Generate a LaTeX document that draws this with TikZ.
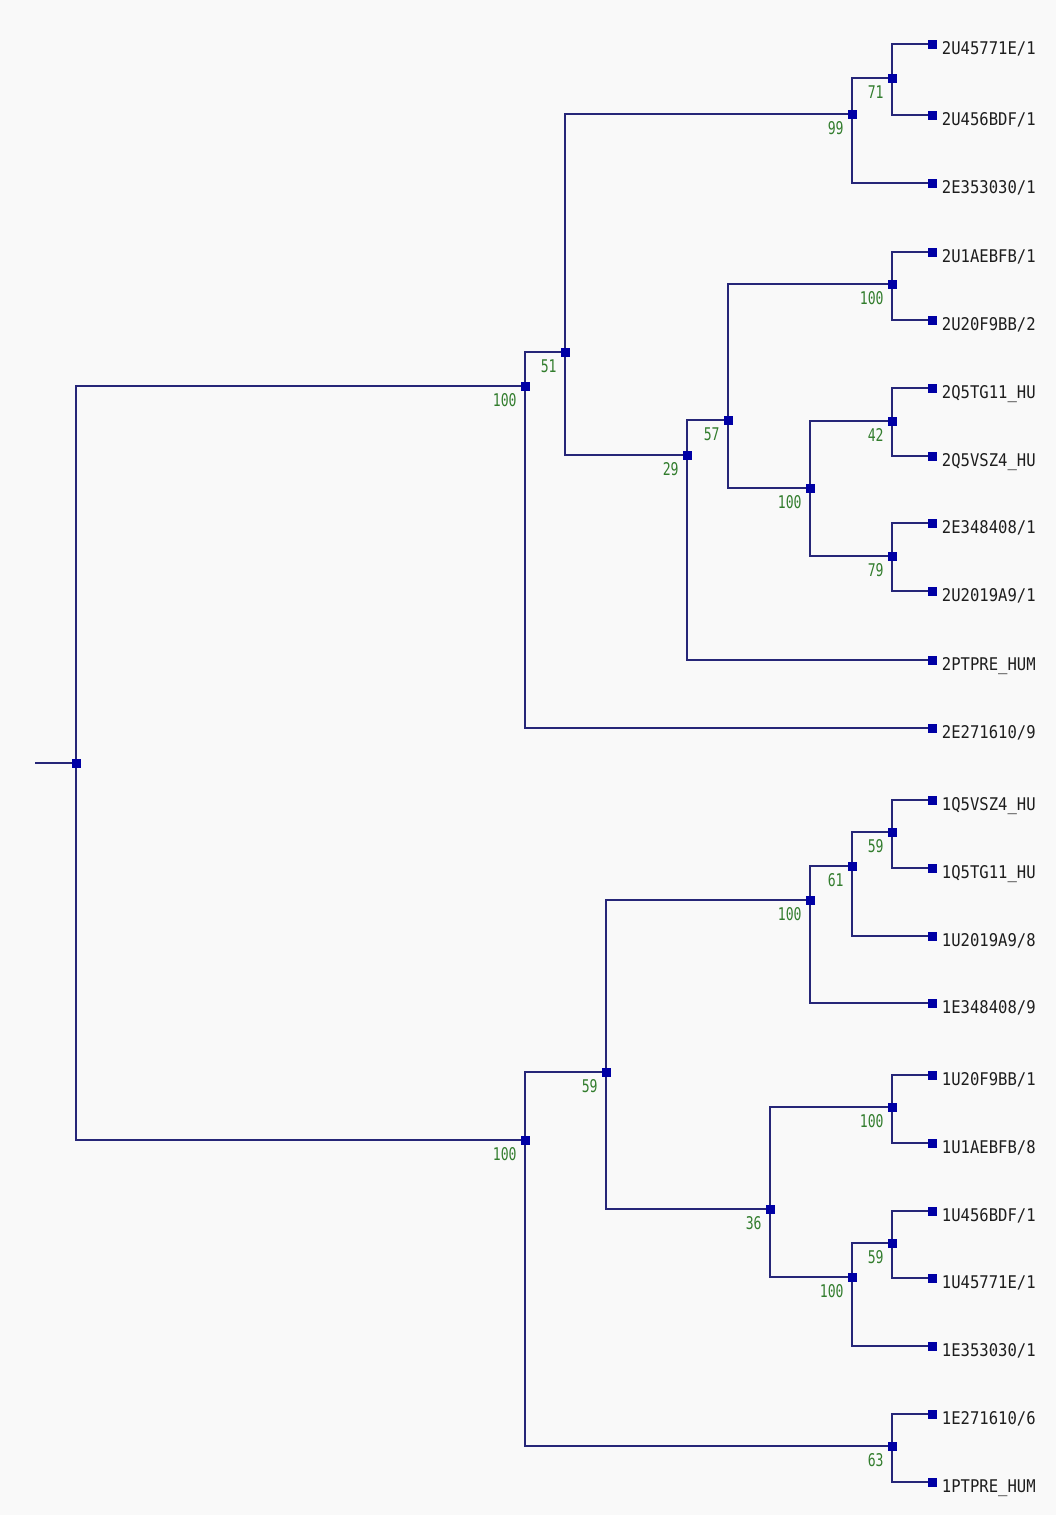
\documentclass[tikz,border=0pt]{standalone}
\usepackage{fontspec}
\newfontfamily\leaffont[FakeStretch=0.89]{DejaVu Sans Mono}
\newfontfamily\numfont[FakeStretch=0.75]{DejaVu Sans Mono}
\definecolor{linecol}{RGB}{38,38,120}
\definecolor{sqcol}{RGB}{0,0,165}
\definecolor{numcol}{RGB}{50,125,45}
\definecolor{txtcol}{RGB}{30,30,30}
\definecolor{bgcol}{RGB}{249,249,249}
\pgfdeclarelayer{bg}
\pgfdeclarelayer{edges}
\pgfsetlayers{bg,edges,main}
\tikzset{
  branch/.style={draw=linecol, line width=1.5pt},
  sq/.style={rectangle, fill=sqcol, draw=none, minimum size=9pt, inner sep=0pt},
  boot/.style={sq, label={[anchor=base east, inner sep=0pt, text=numcol, font=\numfont\fontsize{17.5}{20}\selectfont, xshift=-3.5pt, yshift=-15.5pt]south west:#1}},
  leaf/.style={sq, label={[anchor=base west, inner sep=0pt, text=txtcol, font=\leaffont\fontsize{17.5}{20}\selectfont, xshift=5pt, yshift=-10.5pt]east:#1}},
}
\begin{document}
\begin{tikzpicture}[x=1pt,y=-1pt]
\begin{pgfonlayer}{bg}
\fill[bgcol] (0,0) rectangle (1056,1515);
\end{pgfonlayer}
\useasboundingbox (0,0) rectangle (1056,1515);
% internal nodes
\node[sq] (root) at (76,763) {};
\coordinate (stub) at (35,763);
\node[boot=100] (A) at (525,386) {};
\node[boot=51]  (B) at (565,352) {};
\node[boot=99]  (C) at (852,114) {};
\node[boot=71]  (E) at (892,78) {};
\node[boot=29]  (D) at (687,455) {};
\node[boot=57]  (F) at (728,420) {};
\node[boot=100] (G) at (892,284) {};
\node[boot=100] (H) at (810,488) {};
\node[boot=42]  (I) at (892,421) {};
\node[boot=79]  (J) at (892,556) {};
\node[boot=100] (K) at (525,1140) {};
\node[boot=59]  (L) at (606,1072) {};
\node[boot=100] (N) at (810,900) {};
\node[boot=61]  (P) at (852,866) {};
\node[boot=59]  (Q) at (892,832) {};
\node[boot=36]  (O) at (770,1209) {};
\node[boot=100] (R) at (892,1107) {};
\node[boot=100] (S) at (852,1277) {};
\node[boot=59]  (T) at (892,1243) {};
\node[boot=63]  (M) at (892,1446) {};
% leaves
\node[leaf={2U45771E/1}] (l1)  at (932,44) {};
\node[leaf={2U456BDF/1}] (l2)  at (932,115) {};
\node[leaf={2E353030/1}] (l3)  at (932,183) {};
\node[leaf={2U1AEBFB/1}] (l4)  at (932,252) {};
\node[leaf={2U20F9BB/2}] (l5)  at (932,320) {};
\node[leaf={2Q5TG11\_HU}] (l6)  at (932,388) {};
\node[leaf={2Q5VSZ4\_HU}] (l7)  at (932,456) {};
\node[leaf={2E348408/1}] (l8)  at (932,523) {};
\node[leaf={2U2019A9/1}] (l9)  at (932,591) {};
\node[leaf={2PTPRE\_HUM}] (l10) at (932,660) {};
\node[leaf={2E271610/9}] (l11) at (932,728) {};
\node[leaf={1Q5VSZ4\_HU}] (l12) at (932,800) {};
\node[leaf={1Q5TG11\_HU}] (l13) at (932,868) {};
\node[leaf={1U2019A9/8}] (l14) at (932,936) {};
\node[leaf={1E348408/9}] (l15) at (932,1003) {};
\node[leaf={1U20F9BB/1}] (l16) at (932,1075) {};
\node[leaf={1U1AEBFB/8}] (l17) at (932,1143) {};
\node[leaf={1U456BDF/1}] (l18) at (932,1211) {};
\node[leaf={1U45771E/1}] (l19) at (932,1278) {};
\node[leaf={1E353030/1}] (l20) at (932,1346) {};
\node[leaf={1E271610/6}] (l21) at (932,1414) {};
\node[leaf={1PTPRE\_HUM}] (l22) at (932,1482) {};
% branches
\begin{pgfonlayer}{edges}
\draw[branch] (stub) -- (root.center);
\foreach \p/\c in {root/A, root/K, A/B, A/l11, B/C, B/D, C/E, C/l3, E/l1, E/l2,
  D/F, D/l10, F/G, F/H, G/l4, G/l5, H/I, H/J, I/l6, I/l7, J/l8, J/l9,
  K/L, K/M, L/N, L/O, N/P, N/l15, P/Q, P/l14, Q/l12, Q/l13,
  O/R, O/S, R/l16, R/l17, S/T, S/l20, T/l18, T/l19, M/l21, M/l22}
  \draw[branch] (\p.center) |- (\c.center);
\end{pgfonlayer}
\end{tikzpicture}
\end{document}
